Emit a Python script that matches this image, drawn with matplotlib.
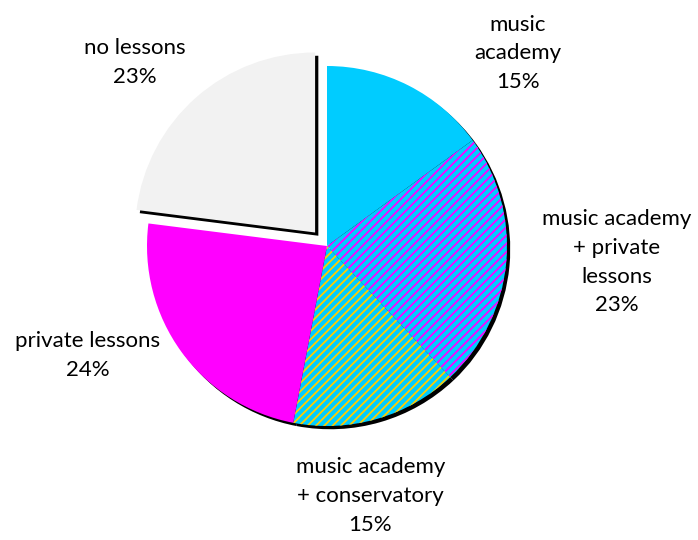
import matplotlib.pyplot as plt

# slices, clockwise from 12 o'clock
labels = [
    "music\nacademy\n15%",
    "music academy\n+ private\nlessons\n23%",
    "music academy\n+ conservatory\n15%",
    "private lessons\n24%",
    "no lessons\n23%",
]
shares = [15, 23, 15, 24, 23]
explode = [0, 0, 0, 0, 0.1]
face_colors = ["#00CCFF", "#00CCFF", "#00CCFF", "#FF00FF", "#F2F2F2"]
hatch_colors = [None, "#FF00FF", "#FFCC00", None, None]

# label anchor points, in pie radii
label_xy = [(1.06, 1.07), (1.61, -0.09), (0.24, -1.39), (-1.33, -0.61), (-1.07, 1.02)]

plt.rcParams["font.family"] = ["Lato", "DejaVu Sans"]
plt.rcParams["hatch.linewidth"] = 1.3

fig = plt.figure(figsize=(6.98, 5.40), dpi=100)
ax = fig.add_axes([0, 0, 1, 1])

# drop shadow: same pie in black, nudged down-right
ax.pie(shares, explode=explode, startangle=90, counterclock=False,
       colors=["black"] * len(shares), center=(0.018, -0.018),
       wedgeprops=dict(linewidth=0))

wedges, _ = ax.pie(shares, explode=explode, startangle=90, counterclock=False,
                   colors=face_colors, wedgeprops=dict(linewidth=0))

for w, hc in zip(wedges, hatch_colors):
    if hc:
        w.set_edgecolor(hc)
        w.set_linewidth(0)
        w.set_hatch("////")

for text, (x, y) in zip(labels, label_xy):
    ax.text(x, y, text, ha="center", va="center", fontsize=16,
            linespacing=1.55, color="black")

# 180 px per unit, pie centre at (327, 246) px
ax.set_xlim(-327 / 180, (698 - 327) / 180)
ax.set_ylim(-(540 - 246) / 180, 246 / 180)
ax.set_aspect("auto")
ax.axis("off")

fig.savefig("out.png")
